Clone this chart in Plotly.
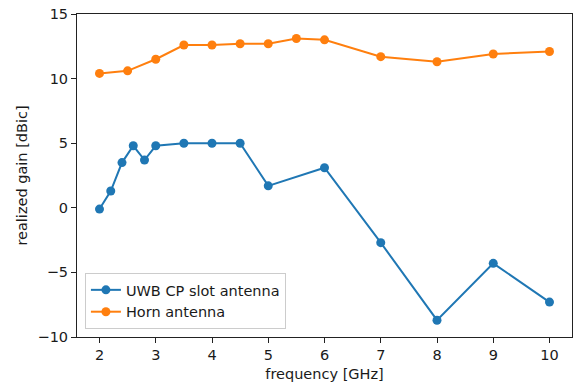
import plotly.graph_objects as go

uwb_freq = [2, 2.2, 2.4, 2.6, 2.8, 3, 3.5, 4, 4.5, 5, 6, 7, 8, 9, 10]
uwb_gain = [-0.1, 1.3, 3.5, 4.8, 3.7, 4.8, 5.0, 5.0, 5.0, 1.7, 3.1, -2.7, -8.7, -4.3, -7.3]

horn_freq = [2, 2.5, 3, 3.5, 4, 4.5, 5, 5.5, 6, 7, 8, 9, 10]
horn_gain = [10.4, 10.6, 11.5, 12.6, 12.6, 12.7, 12.7, 13.1, 13.0, 11.7, 11.3, 11.9, 12.1]

x_ticks = [2, 3, 4, 5, 6, 7, 8, 9, 10]
y_ticks = [-10, -5, 0, 5, 10, 15]

font = dict(family="DejaVu Sans", size=14.5, color="#1a1a1a")

fig = go.Figure()
fig.add_trace(go.Scatter(x=uwb_freq, y=uwb_gain, mode="lines+markers",
                         name="UWB CP slot antenna",
                         line=dict(color="#1f77b4", width=2),
                         marker=dict(color="#1f77b4", size=9)))
fig.add_trace(go.Scatter(x=horn_freq, y=horn_gain, mode="lines+markers",
                         name="Horn antenna",
                         line=dict(color="#ff7f0e", width=2),
                         marker=dict(color="#ff7f0e", size=9)))

axis_common = dict(showline=True, linecolor="#222222", linewidth=1, mirror=True,
                   ticks="outside", ticklen=5, tickcolor="#222222", tickwidth=1,
                   showgrid=False, zeroline=False, tickfont=font)

fig.update_layout(
    width=576, height=385,
    margin=dict(l=77, r=4, t=14, b=48),
    paper_bgcolor="white", plot_bgcolor="white",
    font=font,
    xaxis=dict(range=[1.6, 10.4], tickvals=x_ticks,
               title=dict(text="frequency [GHz]", font=font, standoff=6), **axis_common),
    yaxis=dict(range=[-10, 15], tickvals=y_ticks,
               ticktext=[("\u2212" + str(-v)) if v < 0 else str(v) for v in y_ticks],
               title=dict(text="realized gain [dBic]", font=font, standoff=6), **axis_common),
    legend=dict(x=0.016, y=0.025, xanchor="left", yanchor="bottom",
                bgcolor="rgba(255,255,255,0.8)", bordercolor="#cccccc", borderwidth=1,
                font=font, itemwidth=30, tracegroupgap=0),
    showlegend=True,
)

fig.write_html("out.html")
